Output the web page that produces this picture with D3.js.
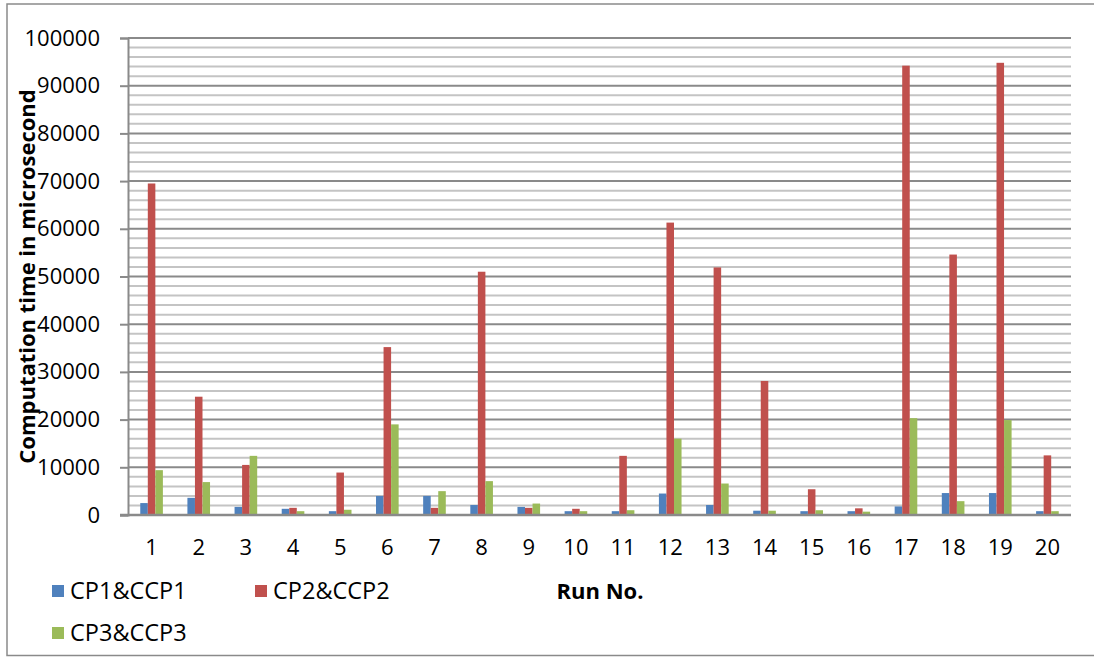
<!DOCTYPE html>
<html>
<head>
<meta charset="utf-8">
<script src="https://cdn.jsdelivr.net/npm/d3@7"></script>
<style>
  html, body { margin: 0; padding: 0; background: #fff; }
  svg { display: block; }
  text { font-family: "Open Sans", "Liberation Sans", sans-serif; fill: #000; }
</style>
</head>
<body>
<svg id="chart" width="1094" height="657"></svg>
<script>
const categories = ["1","2","3","4","5","6","7","8","9","10","11","12","13","14","15","16","17","18","19","20"];
const seriesNames = ["CP1&CCP1", "CP2&CCP2", "CP3&CCP3"];
const cp1 = [2500, 3600, 1700, 1300, 800, 4000, 4000, 2100, 1700, 800, 800, 4500, 2100, 900, 800, 800, 1800, 4600, 4600, 800];
const cp2 = [69500, 24800, 10500, 1500, 8900, 35200, 1500, 51000, 1500, 1300, 12400, 61300, 51900, 28100, 5400, 1400, 94200, 54600, 94800, 12500];
const cp3 = [9400, 6900, 12400, 800, 1100, 19000, 5000, 7100, 2400, 800, 1000, 16000, 6600, 900, 1000, 700, 20300, 2900, 19900, 800];
const yTicks = [0, 10000, 20000, 30000, 40000, 50000, 60000, 70000, 80000, 90000, 100000];
const yMinorTicks = d3.range(0, 100001, 2000);
const colors = ["#4f81bd", "#c0504d", "#9bbb59"];

const svg = d3.select("#chart");
const mLeft = 128, mRight = 1071, mTop = 38, mBottom = 515;

// outer frame
svg.append("rect").attr("x", 7).attr("y", 4).attr("width", 1100).attr("height", 651.5)
  .attr("fill", "none").attr("stroke", "#8a8a8a").attr("stroke-width", 1.5);

const x = d3.scaleBand().domain(categories).range([mLeft, mRight]).paddingInner(0.52).paddingOuter(0.26);
const xs = d3.scaleBand().domain(seriesNames).range([0, x.bandwidth()]);
const y = d3.scaleLinear().domain([0, 100000]).range([mBottom, mTop]);

// minor gridlines
svg.append("g").selectAll("line").data(yMinorTicks.filter(v => v % 10000 !== 0)).join("line")
  .attr("x1", mLeft).attr("x2", mRight).attr("y1", d => y(d)).attr("y2", d => y(d))
  .attr("stroke", "#c4c4c4").attr("stroke-width", 2);
// major gridlines
svg.append("g").selectAll("line").data(yTicks.filter(v => v > 0)).join("line")
  .attr("x1", mLeft).attr("x2", mRight).attr("y1", d => y(d)).attr("y2", d => y(d))
  .attr("stroke", "#8a8a8a").attr("stroke-width", 2);

// bars
const data = categories.map((c, i) => ({ c, vals: [cp1[i], cp2[i], cp3[i]] }));
const groups = svg.append("g").selectAll("g").data(data).join("g")
  .attr("transform", d => `translate(${x(d.c)},0)`);
groups.selectAll("rect").data(d => d.vals.map((v, k) => ({ v, k }))).join("rect")
  .attr("x", d => xs(seriesNames[d.k]))
  .attr("width", xs.bandwidth())
  .attr("y", d => y(d.v))
  .attr("height", d => y(0) - y(d.v))
  .attr("fill", d => colors[d.k]);

// y axis
const yAxis = d3.axisLeft(y).tickValues(yTicks).tickSize(8).tickPadding(20).tickFormat(d3.format("d"));
const gy = svg.append("g").attr("transform", `translate(${mLeft},0)`).call(yAxis);
gy.select(".domain").attr("stroke", "#8a8a8a").attr("stroke-width", 2);
gy.selectAll(".tick line").attr("stroke", "#8a8a8a").attr("stroke-width", 2);
gy.selectAll(".tick text").style("font-size", "22px").attr("fill", "#000");

// x axis
const xAxis = d3.axisBottom(x).tickSize(0).tickPadding(24);
const gx = svg.append("g").attr("transform", `translate(0,${mBottom})`).call(xAxis);
gx.select(".domain").attr("stroke", "#8a8a8a").attr("stroke-width", 2.5).attr("d", `M${mLeft - 8},0H${mRight}`);
gx.selectAll(".tick text").style("font-size", "22px").attr("fill", "#000");

// y title
svg.append("text")
  .attr("transform", `translate(35,${(mTop + mBottom) / 2}) rotate(-90)`)
  .attr("text-anchor", "middle")
  .style("font-size", "22px").style("font-weight", "bold")
  .text("Computation time in microsecond");

// x title
svg.append("text").attr("x", 600).attr("y", 599).attr("text-anchor", "middle")
  .style("font-size", "22px").style("font-weight", "bold").text("Run No.");

// legend
const legendPos = [[52, 591], [255, 591], [52, 633]];
const lg = svg.append("g").selectAll("g").data(seriesNames).join("g")
  .attr("transform", (d, i) => `translate(${legendPos[i][0]},${legendPos[i][1]})`);
lg.append("rect").attr("x", 0).attr("y", -6).attr("width", 12).attr("height", 12).attr("fill", (d, i) => colors[i]);
lg.append("text").attr("x", 18).attr("y", 8).style("font-size", "23.5px").text(d => d);
</script>
</body>
</html>
